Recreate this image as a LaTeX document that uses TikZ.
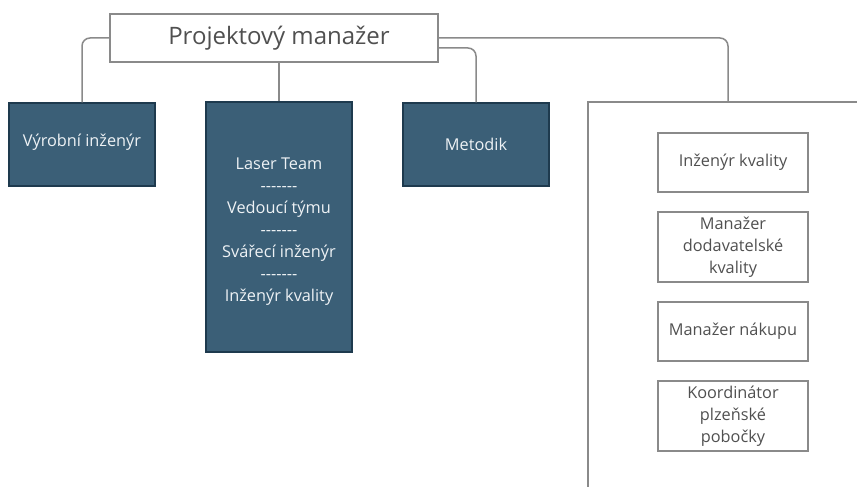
\documentclass[tikz,border=0pt]{standalone}
\usepackage{fontspec}
\setmainfont{Open Sans}
\usepackage{xcolor}
\usepackage{tikz}
\usetikzlibrary{positioning}
\definecolor{orgdark}{HTML}{3B5F77}
\definecolor{orgedge}{HTML}{1E3A4E}
\definecolor{orgline}{HTML}{8A8A8A}
\definecolor{orgtext}{HTML}{505050}
\definecolor{orglight}{HTML}{EEF2F5}
\newcommand{\sepline}{-{}-{}-{}-{}-{}-{}-}

\begin{document}
\begin{tikzpicture}[x=1pt,y=-1pt,
  node distance=18.7pt,
  head/.style={draw=orgline,fill=white,line width=1.3pt,minimum width=328pt,minimum height=48pt,font=\fontsize{24}{28}\selectfont,text=orgtext,inner sep=0pt},
  dark/.style={draw=orgedge,fill=orgdark,line width=1.3pt,minimum width=146pt,align=center,font=\fontsize{16.3}{22}\selectfont,text=orglight,inner sep=0pt},
  lite/.style={draw=orgline,fill=white,line width=1.3pt,minimum width=150pt,align=center,font=\fontsize{16.3}{22}\selectfont,text=orgtext,inner sep=0pt},
  link/.style={draw=orgline,line width=1.5pt,rounded corners=8pt},
  frame/.style={draw=orgline,line width=1.3pt}]
  \useasboundingbox (0,0) rectangle (857,487);
  % head of the project
  \node[head] (pm) at (274,38) {\hspace*{10pt}Projektový manažer};
  % direct reports
  \node[dark,minimum height=83pt] (vyr) at (82,144.5) {Výrobní inženýr\\[-14pt]};
  \node[dark,minimum height=250pt] (laser) at (279,227) {\mbox{}\\[-2pt]Laser Team\\\sepline\\Vedoucí týmu\\\sepline\\Svářecí inženýr\\\sepline\\Inženýr kvality};
  \node[dark,minimum height=83pt] (metod) at (476,144.5) {Metodik};
  % quality / purchasing group
  \coordinate (grp) at (728,102);
  \draw[frame] (857,102) -| (588,487);
  \node[lite,minimum height=59pt] (qe) at (733,162.5) {Inženýr kvality};
  \node[lite,minimum height=70pt,below=of qe] (sqm) {Manažer\\dodavatelské\\kvality};
  \node[lite,minimum height=59pt,below=of sqm] (buyer) {Manažer nákupu};
  \node[lite,minimum height=70pt,below=of buyer] (coord) {Koordinátor\\plzeňské\\pobočky};
  % connectors
  \draw[link] (pm.west) -| (vyr.north);
  \draw[link] (laser.north |- pm.south) -- (laser.north);
  \draw[link] ([yshift=-10pt]pm.east) -| (metod.north);
  \draw[link] (pm.east) -| (grp);
\end{tikzpicture}
\end{document}
